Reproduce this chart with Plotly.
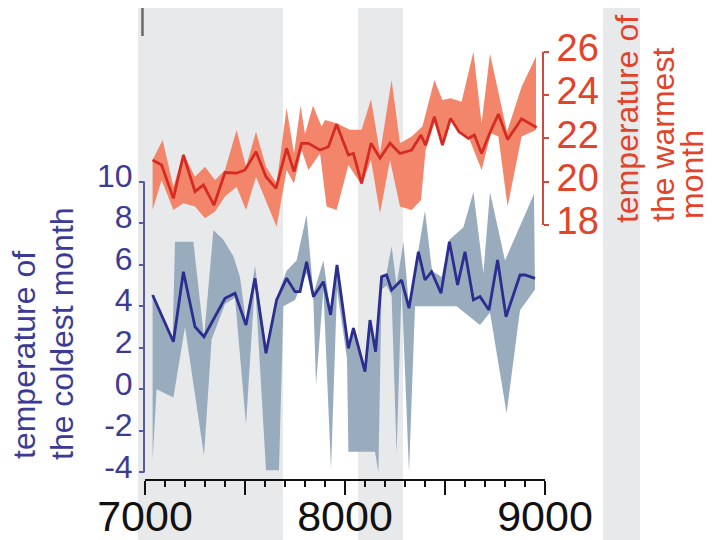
import plotly.graph_objects as go

FONT = "Liberation Sans, Arial, sans-serif"

# ---------------- data ----------------
# coldest month (left axis)
cold_years = [7038, 7142, 7192, 7250, 7295, 7400, 7450, 7505, 7550, 7605,
              7658, 7708, 7750, 7775, 7808, 7842, 7892, 7928, 7960, 8017,
              8042, 8100, 8125, 8153, 8183, 8208, 8233, 8283, 8320, 8367,
              8400, 8433, 8480, 8522, 8563, 8600, 8642, 8675, 8720, 8763,
              8805, 8875, 8900, 8950]
cold_mean = [4.54, 2.29, 5.66, 3.01, 2.53, 4.38, 4.62, 3.09, 5.34, 1.73,
             4.30, 5.34, 4.70, 4.70, 6.14, 4.46, 5.18, 3.58, 5.98, 1.97,
             2.94, 0.85, 3.33, 1.81, 5.42, 5.50, 4.78, 5.26, 3.90, 6.62,
             5.26, 5.66, 4.62, 7.10, 5.02, 6.62, 4.30, 4.46, 3.82, 6.22,
             3.49, 5.50, 5.50, 5.34]

cold_upper_years = [7038, 7138, 7150, 7242, 7295, 7342, 7392, 7442, 7475, 7505,
                    7550, 7605, 7658, 7708, 7758, 7808, 7842, 7892, 7928, 7960,
                    8017, 8042, 8100, 8125, 8153, 8183, 8208, 8233, 8258, 8292,
                    8320, 8367, 8400, 8435, 8483, 8522, 8592, 8642, 8692, 8725,
                    8800, 8945]
cold_upper = [4.6, 2.4, 7.1, 7.1, 2.5, 7.65, 7.2, 6.4, 5.4, 3.2,
              5.95, 1.8, 4.4, 5.7, 6.2, 8.4, 4.6, 6.2, 3.7, 6.0,
              2.0, 3.0, 0.9, 3.4, 1.9, 5.5, 5.6, 6.9, 5.0, 7.1,
              4.0, 6.7, 8.6, 5.7, 5.4, 7.2, 7.8, 9.5, 5.6, 9.5,
              6.2, 9.4]

cold_lower_years = [7038, 7058, 7142, 7200, 7295, 7333, 7400, 7450, 7505, 7550,
                    7605, 7670, 7692, 7750, 7808, 7842, 7855, 7892, 7930, 7960,
                    8010, 8017, 8125, 8150, 8167, 8183, 8208, 8233, 8258, 8283,
                    8320, 8350, 8442, 8558, 8675, 8725, 8808, 8875, 8950]
cold_lower = [-3.4, 0.0, -0.4, 3.0, -3.2, 2.4, 4.1, 4.4, -1.7, 5.2,
              -3.9, -3.9, 4.0, 4.3, 5.6, 4.3, 0.2, 4.8, -3.85, 4.8,
              1.5, -3.0, -3.0, -3.0, -4.0, 4.8, 5.0, 4.5, -3.1, 5.0,
              -4.0, 4.0, 4.0, 4.0, 3.1, 3.7, -1.15, 3.8, 4.8]

# warmest month (right axis)
warm_years = [7038, 7083, 7142, 7192, 7250, 7292, 7345, 7400, 7458, 7500,
              7555, 7605, 7655, 7708, 7745, 7783, 7817, 7875, 7917, 7958,
              8017, 8042, 8083, 8130, 8175, 8225, 8275, 8333, 8380, 8403,
              8447, 8487, 8528, 8570, 8617, 8647, 8683, 8730, 8767, 8813,
              8883, 8958]
warm_mean = [21.0, 20.77, 19.23, 21.23, 19.54, 19.85, 18.92, 20.42, 20.39, 20.54,
             21.38, 20.23, 19.69, 21.54, 20.46, 21.77, 21.77, 21.46, 21.61, 22.65,
             21.23, 21.3, 19.92, 21.77, 21.08, 21.77, 21.3, 21.46, 22.15, 21.69,
             23.0, 21.69, 22.92, 22.3, 22.0, 22.15, 21.3, 22.38, 23.12, 21.95,
             22.9, 22.5]

warm_upper_years = [7038, 7088, 7142, 7192, 7250, 7300, 7350, 7400, 7458, 7505,
                    7555, 7605, 7658, 7708, 7745, 7778, 7800, 7840, 7883, 7900,
                    7958, 8025, 8083, 8130, 8175, 8233, 8275, 8333, 8387, 8447,
                    8487, 8528, 8583, 8642, 8683, 8725, 8810, 8883, 8955]
warm_upper = [21.0, 21.92, 19.77, 21.3, 20.23, 20.69, 20.08, 20.54, 22.38, 20.69,
              22.3, 20.69, 19.92, 23.4, 21.3, 23.5, 22.2, 23.5, 22.54, 22.85,
              22.69, 22.4, 22.4, 23.8, 21.3, 24.69, 21.77, 22.08, 22.54, 24.69,
              23.77, 23.85, 23.69, 26.0, 22.69, 25.9, 22.3, 24.38, 25.77]

warm_lower_years = [7038, 7083, 7142, 7192, 7250, 7300, 7350, 7400, 7458, 7505,
                    7555, 7605, 7658, 7708, 7745, 7783, 7817, 7875, 7908, 7958,
                    8017, 8083, 8130, 8175, 8225, 8275, 8333, 8380, 8403, 8447,
                    8487, 8528, 8583, 8617, 8683, 8730, 8767, 8813, 8883, 8955]
warm_lower = [18.69, 20.08, 18.69, 19.0, 18.85, 18.31, 18.62, 19.31, 19.77, 18.69,
              20.23, 19.15, 17.92, 20.54, 19.92, 21.46, 20.54, 21.3, 18.85, 18.69,
              20.77, 19.85, 21.0, 18.54, 21.0, 18.85, 18.69, 19.15, 21.46, 22.69,
              21.77, 22.85, 22.23, 22.08, 20.54, 22.23, 22.08, 18.85, 22.08, 22.38]

# shaded periods (years)
band_starts = [6965, 8065, 9290]
band_ends = [7690, 8290, 9475]

# axes ticks
x_major = [7000, 7500, 8000, 8500, 9000]
x_major_text = ["7000", "", "8000", "", "9000"]
x_minor = [y for y in range(7100, 9000, 100) if y % 500 != 0]
cold_ticks = [-4, -2, 0, 2, 4, 6, 8, 10]
cold_tick_text = ["-4", "-2", "0", "2", "4", "6", "8", "10"]
warm_ticks = [18, 20, 22, 24, 26]

# ---------------- colours ----------------
C_BAND = "#e8e9eb"
C_COLD_FILL = "#98acbe"
C_COLD_LINE = "#2b2e8e"
C_COLD_AXIS = "#3b3b96"
C_WARM_FILL = "#f3866a"
C_WARM_LINE = "#d52b22"
C_WARM_AXIS = "#e2432b"

W, H = 712, 540
X0_PX, PX_PER_YEAR = 145, 0.2
x_range = [7000 - X0_PX / PX_PER_YEAR, 7000 + (W - X0_PX) / PX_PER_YEAR]
# left axis: value 0 at y=389.3px, 20.78 px per unit
y_range = [(389.3 - H) / 20.78, 389.3 / 20.78]
# right axis: value 18 at y=225px, 21.67 px per unit
y2_range = [18 - (H - 225) / 21.67, 18 + 225 / 21.67]

fig = go.Figure()

# cold band
fig.add_trace(go.Scatter(
    x=cold_upper_years + cold_lower_years[::-1],
    y=cold_upper + cold_lower[::-1],
    fill="toself", fillcolor=C_COLD_FILL, mode="lines",
    line=dict(width=0, color=C_COLD_FILL), hoverinfo="skip", yaxis="y"))
fig.add_trace(go.Scatter(
    x=cold_years, y=cold_mean, mode="lines",
    line=dict(color=C_COLD_LINE, width=2.8), yaxis="y"))

# warm band
fig.add_trace(go.Scatter(
    x=warm_upper_years + warm_lower_years[::-1],
    y=warm_upper + warm_lower[::-1],
    fill="toself", fillcolor=C_WARM_FILL, mode="lines",
    line=dict(width=0, color=C_WARM_FILL), hoverinfo="skip", yaxis="y2"))
fig.add_trace(go.Scatter(
    x=warm_years, y=warm_mean, mode="lines",
    line=dict(color=C_WARM_LINE, width=2.8), yaxis="y2"))

shapes = []
for s, e in zip(band_starts, band_ends):
    shapes.append(dict(type="rect", xref="x", yref="paper", x0=s, x1=e,
                       y0=0, y1=(H - 8) / H, fillcolor=C_BAND,
                       line=dict(width=0), layer="below"))
# axis lines
shapes.append(dict(type="line", xref="paper", yref="y", x0=144 / W, x1=144 / W,
                   y0=cold_ticks[0], y1=cold_ticks[-1],
                   line=dict(color="#5a5aa2", width=2)))
shapes.append(dict(type="line", xref="paper", yref="y2", x0=543 / W, x1=543 / W,
                   y0=warm_ticks[0], y1=warm_ticks[-1],
                   line=dict(color="#cf4a3a", width=2)))
shapes.append(dict(type="line", xref="x", yref="paper", x0=x_major[0], x1=x_major[-1],
                   y0=(H - 480) / H, y1=(H - 480) / H,
                   line=dict(color="#111111", width=2)))
# small cropped mark at top-left
shapes.append(dict(type="line", xref="paper", yref="paper", x0=142.5 / W, x1=142.5 / W,
                   y0=(H - 8) / H, y1=(H - 36) / H,
                   line=dict(color="#6a6a6a", width=2.5)))

annotations = []
# (text, x centre px, y centre px)
left_title = [("temperature of", 24, 355), ("the coldest month", 62, 334)]
for txt, xp, yc in left_title:
    annotations.append(dict(text=txt, x=xp / W, y=(H - yc) / H, xref="paper", yref="paper",
                            xanchor="center", yanchor="middle", textangle=-90, showarrow=False,
                            font=dict(family=FONT, size=32, color=C_COLD_AXIS)))
right_title = [("temperature of", 627, 119), ("the warmest", 663, 135), ("month", 692, 175)]
for txt, xp, yc in right_title:
    annotations.append(dict(text=txt, x=xp / W, y=(H - yc) / H, xref="paper", yref="paper",
                            xanchor="center", yanchor="middle", textangle=-90, showarrow=False,
                            font=dict(family=FONT, size=32, color=C_WARM_AXIS)))

fig.update_layout(
    width=W, height=H, margin=dict(l=0, r=0, t=0, b=0, pad=0, autoexpand=False),
    paper_bgcolor="white", plot_bgcolor="rgba(0,0,0,0)", showlegend=False,
    shapes=shapes, annotations=annotations,
    xaxis=dict(range=x_range, domain=[0, 1], anchor="free", position=(H - 480) / H,
               automargin=False,
               showgrid=False, zeroline=False, showline=False,
               tickmode="array", tickvals=x_major, ticktext=x_major_text,
               ticks="outside", ticklen=14, tickwidth=2, tickcolor="#111111",
               ticklabelstandoff=-16,
               tickfont=dict(family=FONT, size=43, color="#111111"),
               minor=dict(tickmode="array", tickvals=x_minor, ticks="outside",
                          ticklen=6, tickwidth=1.5, tickcolor="#111111")),
    yaxis=dict(range=y_range, domain=[0, 1], anchor="free", position=144 / W, side="left",
               automargin=False,
               showgrid=False, zeroline=False, showline=False,
               tickmode="array", tickvals=cold_ticks, ticktext=cold_tick_text,
               ticks="outside", ticklen=5, ticklabelshift=-6,
               tickwidth=1.5, tickcolor="#5a5aa2",
               tickfont=dict(family=FONT, size=32, color=C_COLD_AXIS)),
    yaxis2=dict(range=y2_range, overlaying="y", anchor="free", position=543 / W, side="right",
                automargin=False,
                showgrid=False, zeroline=False, showline=False,
                tickmode="array", tickvals=warm_ticks, ticks="outside", ticklen=5,
                ticklabelshift=-4,
                tickwidth=1.5, tickcolor="#cf4a3a",
                tickfont=dict(family=FONT, size=38, color=C_WARM_AXIS)),
)

fig.write_html("out.html", config={"displayModeBar": False},
               post_script="document.body.style.margin='0';document.body.style.overflow='hidden';")
